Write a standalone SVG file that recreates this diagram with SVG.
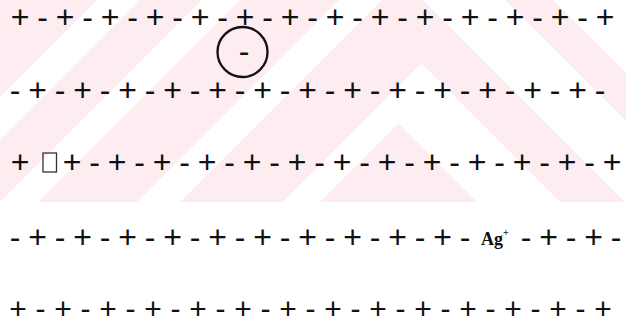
<svg xmlns="http://www.w3.org/2000/svg" width="626" height="325" viewBox="0 0 626 325">
  <defs>
    <clipPath id="wmClip"><rect x="0" y="0" width="626" height="202"/></clipPath>
    <style>
      .sym { font-family: "Liberation Sans", Arial, sans-serif; font-size: 32px; fill: #111; text-anchor: middle; }
      .sym-sm { font-family: "Liberation Sans", Arial, sans-serif; font-size: 30px; fill: #111; text-anchor: middle; }
      .ion { font-family: "Liberation Serif", "Times New Roman", serif; font-weight: bold; fill: #111; }
      .wm-white { fill: #ffffff; }
    </style>
  </defs>
  <rect x="0" y="0" width="626" height="325" fill="#ffffff"/>
  <g id="watermark" clip-path="url(#wmClip)">
    <rect x="0" y="0" width="626" height="202" fill="#fdedf0"/>
    <polygon class="wm-white" points="97,0 140,0 0,140 0,97"/>
    <polygon class="wm-white" points="-98,300 421,-219 940,300 853,300 396.5,-156.5 -60,300"/>
    <polygon class="wm-white" points="39,300 422,-83 805,300 723,300 402.5,-20.5 82,300"/>
    <polygon class="wm-white" points="185,300 421.5,63.5 658,300 575,300 398.5,123.5 222,300"/>
  </g>
  <g id="row1">
    <text class="sym" y="27.6" x="20 42.5 65 87.5 110 132.5 155 177.5 200 222.5 245 267.5 290 312.5 335 357.5 380 402.5 425 447.5 470 492.5 515 537.5 560 582.5 605">+-+-+-+-+-+-+-+-+-+-+-+-+-+</text>
  </g>
  <g id="circled-anion">
    <circle cx="242.5" cy="52" r="25" fill="none" stroke="#111" stroke-width="2.3"/>
    <text class="sym" x="244" y="62">-</text>
  </g>
  <g id="row2">
    <text class="sym" y="101.4" x="15 37.5 60 82.5 105 127.5 150 172.5 195 217.5 240 262.5 285 307.5 330 352.5 375 397.5 420 442.5 465 487.5 510 532.5 555 577.5 600">-+-+-+-+-+-+-+-+-+-+-+-+-+-</text>
  </g>
  <g id="row3">
    <text class="sym" x="20" y="173.1">+</text>
    <rect id="vacancy" x="43" y="153" width="13.5" height="19" fill="none" stroke="#333" stroke-width="1.3"/>
    <text class="sym" y="173.1" x="72 94.5 117 139.5 162 184.5 207 229.5 252 274.5 297 319.5 342 364.5 387 409.5 432 454.5 477 499.5 522 544.5 567 589.5 612">+-+-+-+-+-+-+-+-+-+-+-+-+</text>
  </g>
  <g id="row4">
    <text class="sym" y="248.1" x="15 37.5 60 82.5 105 127.5 150 172.5 195 217.5 240 262.5 285 307.5 330 352.5 375 397.5 420 442.5 465">-+-+-+-+-+-+-+-+-+-+-</text>
    <text class="ion" x="481" y="245" font-size="18">Ag<tspan font-size="10" dy="-9">+</tspan></text>
    <text class="sym" y="248.1" x="526 548.5 571 593.5 616">-+-+-</text>
  </g>
  <g id="row5">
    <text class="sym-sm" y="318.5" x="18 40.5 63 85.5 108 130.5 153 175.5 198 220.5 243 265.5 288 310.5 333 355.5 378 400.5 423 445.5 468 490.5 513 535.5 558 580.5 603">+-+-+-+-+-+-+-+-+-+-+-+-+-+</text>
  </g>
</svg>
